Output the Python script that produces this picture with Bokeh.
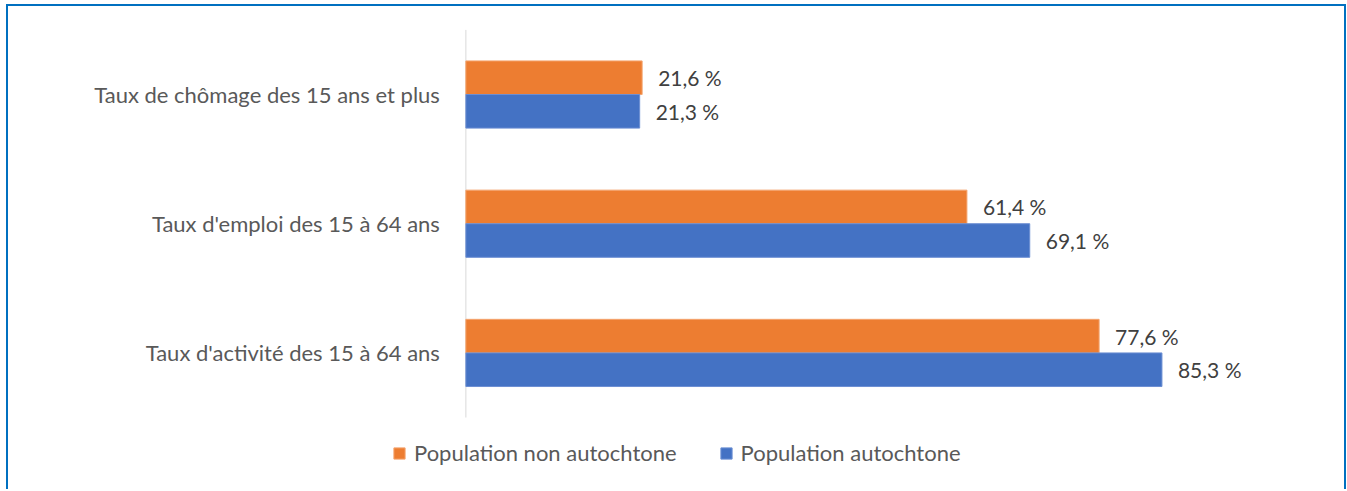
from bokeh.plotting import figure
from bokeh.models import Range1d, ColumnDataSource, Legend, LegendItem
from bokeh.transform import dodge
from bokeh.core.properties import value
from bokeh.embed import file_html
from bokeh.resources import INLINE

# ---- data ----
categories = ["Taux de chômage des 15 ans et plus",
              "Taux d'emploi des 15 à 64 ans",
              "Taux d'activité des 15 à 64 ans"]
non_autochtone = [21.6, 61.4, 77.6]
autochtone = [21.3, 69.1, 85.3]
series_names = ["Population non autochtone", "Population autochtone"]

def fmt(v):
    return f"{v:.1f}".replace(".", ",") + " %"

FONT = "Lato"
ORANGE = "#ED7D31"
BLUE = "#4472C4"
TXT = "#595959"

# categories listed top to bottom -> numeric positions (top = highest)
n = len(categories)
pos = [n - 1 - i for i in range(n)]

src = ColumnDataSource(dict(
    pos=pos,
    cat=categories,
    zero=[0] * n,
    non=non_autochtone,
    aut=autochtone,
    non_lbl=[fmt(v) for v in non_autochtone],
    aut_lbl=[fmt(v) for v in autochtone],
))

# ---- layout (pixels) ----
W, H = 1340, 485
CW, CH = W - 4, H - 2        # drawing canvas size (inside borders)
PX_X = 8.136                 # pixels per percent
AXIS_PX = 466 - 10           # axis position inside canvas
PX_Y = 128.67                # pixels per category
BOTTOM_CAT_PX = 351 - 6      # centre of lowest category inside canvas

x0 = -AXIS_PX / PX_X
y1 = BOTTOM_CAT_PX / PX_Y
y0 = -(CH - BOTTOM_CAT_PX) / PX_Y

p = figure(width=W, height=H, output_backend="svg", toolbar_location=None,
           x_range=Range1d(x0, x0 + CW / PX_X), y_range=Range1d(y0, y1),
           min_border=0, min_border_left=0, min_border_right=0,
           min_border_top=0, min_border_bottom=0)
p.styles = {"border-top": "2px solid #0070C0",
            "border-left": "2px solid #0070C0",
            "border-right": "2px solid #0070C0",
            "margin-left": "6px",
            "margin-top": "4px"}
p.outline_line_color = None
p.xgrid.visible = False
p.ygrid.visible = False
p.xaxis.visible = False
p.yaxis.visible = False

# vertical category axis line
p.segment(x0=0, y0=-0.5, x1=0, y1=n - 0.5, line_color="#D9D9D9", line_width=1)

off = 0.13
h = 0.26
r_non = p.hbar(y=dodge("pos", off), right="non", left=0, height=h,
               source=src, fill_color=ORANGE, line_color="#F4A46E", line_width=1)
r_aut = p.hbar(y=dodge("pos", -off), right="aut", left=0, height=h,
               source=src, fill_color=BLUE, line_color="#6C8FD3", line_width=1)

p.text(x="non", y=dodge("pos", off), text="non_lbl", source=src,
       x_offset=16, text_baseline="middle", text_font=value(FONT),
       text_font_size="21px", text_color="#404040")
p.text(x="aut", y=dodge("pos", -off), text="aut_lbl", source=src,
       x_offset=16, text_baseline="middle", text_font=value(FONT),
       text_font_size="21px", text_color="#404040")

# category labels
p.text(x="zero", y="pos", text="cat", source=src, x_offset=-26,
       text_align="right", text_baseline="middle", text_font=value(FONT),
       text_font_size="22px", text_color=TXT)

legend = Legend(items=[LegendItem(label=series_names[0], renderers=[r_non]),
                       LegendItem(label=series_names[1], renderers=[r_aut])],
                orientation="horizontal", location=(384, 25),
                glyph_width=14, glyph_height=14, label_standoff=8, spacing=42,
                padding=0, margin=0, border_line_color=None,
                background_fill_alpha=0,
                label_text_font=FONT, label_text_font_size="22px",
                label_text_color=TXT)
p.add_layout(legend, "center")

open("out.html", "w").write(file_html(p, INLINE))
